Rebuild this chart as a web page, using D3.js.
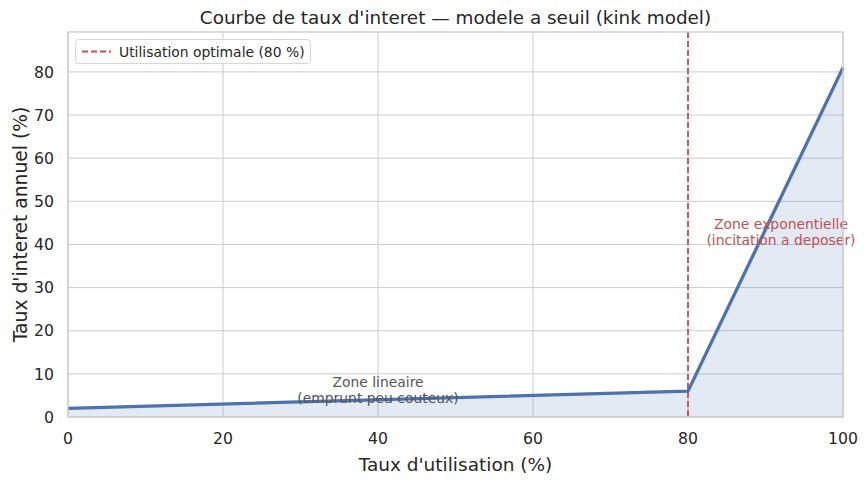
<!DOCTYPE html>
<html><head><meta charset="utf-8">
<script src="https://cdn.jsdelivr.net/npm/d3@7"></script>
<style>body{margin:0;background:#fff;}svg{display:block;font-family:"DejaVu Sans",sans-serif;}</style>
</head><body>
<svg id="c" width="868" height="482"></svg>
<script>
const utilisation = [0, 80, 100];
const taux = [2, 6, 81];
const xTicks = [0, 20, 40, 60, 80, 100];
const yTicks = [0, 10, 20, 30, 40, 50, 60, 70, 80];
const kink = 80;
const title = "Courbe de taux d'interet — modele a seuil (kink model)";
const xLabel = "Taux d'utilisation (%)";
const yLabel = "Taux d'interet annuel (%)";
const legendLabel = "Utilisation optimale (80 %)";

const svg = d3.select("#c");
const L = 68, R = 843, T = 32, B = 417;
const x = d3.scaleLinear().domain([0, 100]).range([L, R]);
const y = d3.scaleLinear().domain([0, 89.25]).range([B, T]);
const data = utilisation.map((u, i) => ({u, t: taux[i]}));
const grid = "#cccccc";

// grid
svg.append("g").selectAll("line").data(xTicks).join("line")
  .attr("x1", d => x(d)).attr("x2", d => x(d)).attr("y1", T).attr("y2", B)
  .attr("stroke", grid).attr("stroke-width", 1);
svg.append("g").selectAll("line").data(yTicks).join("line")
  .attr("x1", L).attr("x2", R).attr("y1", d => y(d)).attr("y2", d => y(d))
  .attr("stroke", grid).attr("stroke-width", 1);

// area
svg.append("path").datum(data)
  .attr("d", d3.area().x(d => x(d.u)).y0(y(0)).y1(d => y(d.t)))
  .attr("fill", "#4c72b0").attr("fill-opacity", 0.15);

// vline
svg.append("line").attr("x1", x(kink)).attr("x2", x(kink)).attr("y1", T).attr("y2", B)
  .attr("stroke", "#c44e52").attr("stroke-width", 1.8).attr("stroke-dasharray", "6,3");

// line
svg.append("path").datum(data)
  .attr("d", d3.line().x(d => x(d.u)).y(d => y(d.t)))
  .attr("fill", "none").attr("stroke", "#4c72b0").attr("stroke-width", 3.3)
  .attr("stroke-linejoin", "round");

// annotations
const ann1 = svg.append("text").attr("text-anchor", "middle")
  .attr("fill", "#555555").style("font-size", "13.9px");
ann1.append("tspan").attr("x", x(40)).attr("y", y(6.4) - 2).text("Zone lineaire");
ann1.append("tspan").attr("x", x(40)).attr("y", y(6.4) + 14).text("(emprunt peu couteux)");
const ann2 = svg.append("text").attr("text-anchor", "middle")
  .attr("fill", "#c44e52").style("font-size", "13.9px");
ann2.append("tspan").attr("x", x(92)).attr("y", y(43.1) - 2).text("Zone exponentielle");
ann2.append("tspan").attr("x", x(92)).attr("y", y(43.1) + 14).text("(incitation a deposer)");

// frame
svg.append("rect").attr("x", L).attr("y", T).attr("width", R - L).attr("height", B - T)
  .attr("fill", "none").attr("stroke", "#cccccc").attr("stroke-width", 1.3);

// ticks labels
svg.append("g").selectAll("text").data(xTicks).join("text")
  .attr("x", d => x(d)).attr("y", B + 27).attr("text-anchor", "middle")
  .attr("fill", "#262626").style("font-size", "15.7px").text(d => d);
svg.append("g").selectAll("text").data(yTicks).join("text")
  .attr("x", L - 14).attr("y", d => y(d) + 5.7).attr("text-anchor", "end")
  .attr("fill", "#262626").style("font-size", "15.7px").text(d => d);

// axis labels
svg.append("text").attr("x", (L + R) / 2).attr("y", 471).attr("text-anchor", "middle")
  .attr("fill", "#262626").style("font-size", "18.5px").text(xLabel);
svg.append("text").attr("transform", `translate(27,${(T + B) / 2}) rotate(-90)`)
  .attr("text-anchor", "middle").attr("fill", "#262626").style("font-size", "18.7px").text(yLabel);

// title
svg.append("text").attr("x", (L + R) / 2).attr("y", 24).attr("text-anchor", "middle")
  .attr("fill", "#262626").style("font-size", "18.4px").text(title);

// legend
const lg = svg.append("g");
lg.append("rect").attr("x", 75.5).attr("y", 39.5).attr("width", 235).attr("height", 24).attr("rx", 3)
  .attr("fill", "#ffffff").attr("fill-opacity", 0.8).attr("stroke", "#d6d6d6");
lg.append("line").attr("x1", 82).attr("x2", 111).attr("y1", 51.5).attr("y2", 51.5)
  .attr("stroke", "#c44e52").attr("stroke-width", 1.8).attr("stroke-dasharray", "6,3");
lg.append("text").attr("x", 119).attr("y", 56.5).attr("fill", "#262626").style("font-size", "13.9px").text(legendLabel);
</script>
</body></html>
